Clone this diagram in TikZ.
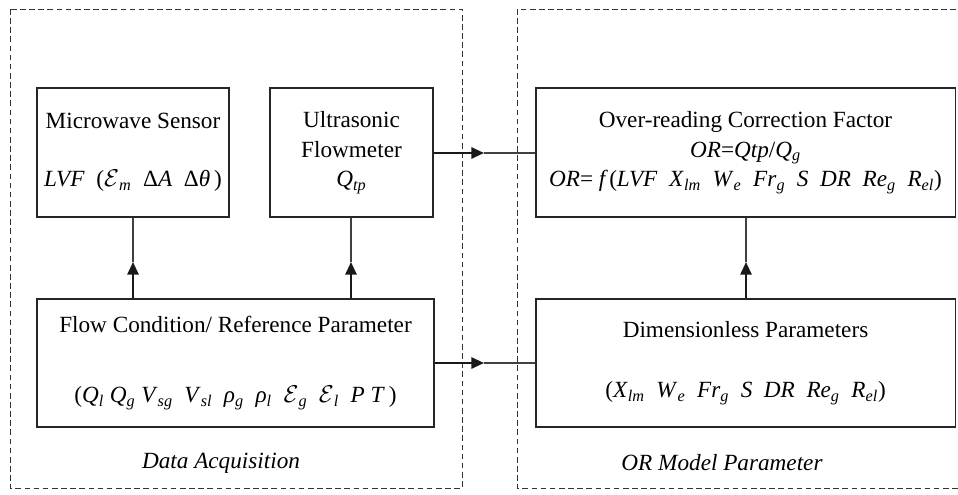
\documentclass[tikz,border=0pt]{standalone}
\usepackage{fontspec}
\setmainfont{Liberation Serif}
\usetikzlibrary{arrows.meta}

% italic symbol with italic subscript
\newcommand{\iv}[2]{\textit{#1}\textsubscript{\textit{#2}}}
\newcommand{\sE}[1]{$\mathcal{E}$\textsubscript{\textit{#1}}}

\tikzset{
  block/.style={draw=black!85, line width=0.8pt, align=center, inner sep=2pt,
    font=\fontsize{16.5}{19}\selectfont},
  group/.style={draw=black!80, line width=0.7pt, dash pattern=on 4pt off 2.5pt},
  feed/.style={line width=1.5pt, black!90, -{Triangle[length=9pt,width=8pt]}},
  rest/.style={line width=0.8pt, black!75},
  caption/.style={font=\fontsize{16.5}{19}\selectfont\itshape}
}

\begin{document}
\begin{tikzpicture}[x=0.025cm,y=-0.025cm]
\useasboundingbox (0,0) rectangle (958,494);

% dashed groups
\draw[group] (10,9) rectangle (462,488);
\draw[group] (517,9) rectangle (975,488);

% blocks
\node[block, minimum width=4.8cm, minimum height=3.225cm]
  (mw) at (133,152.5) {Microwave Sensor\\[22pt]
  \textit{LVF}\ \ (\sE{m}\ \ Δ\textit{A}\ \ Δ\textit{θ}\,)};
\node[block, minimum width=4.075cm, minimum height=3.225cm]
  (us) at (351.5,152.5) {Ultrasonic\\[2pt] Flowmeter\\[2pt] \iv{Q}{tp}};
\node[block, minimum width=10.475cm, minimum height=3.225cm]
  (orf) at (745.5,152.5) {Over-reading Correction Factor\\[2pt]
  \textit{OR}=\textit{Qtp}/\iv{Q}{g}\\[2pt]
  \textit{OR}= \textit{f\,}(\textit{LVF}\ \ \iv{X}{lm}\ \ \iv{W}{e}\ \ \iv{Fr}{g}\ \ \textit{S}\ \ \textit{DR}\ \ \iv{Re}{g}\ \ \iv{R}{el})};
\node[block, minimum width=9.925cm, minimum height=3.2cm]
  (flow) at (235.5,363) {Flow Condition/ Reference Parameter\\[31pt]
  (\iv{Q}{l}\ \iv{Q}{g}\ \iv{V}{sg}\ \ \iv{V}{sl}\ \ \iv{ρ}{g}\ \ \iv{ρ}{l}\ \ \sE{g}\ \ \sE{l}\ \ \textit{P}\ \textit{T}\,)};
\node[block, minimum width=10.475cm, minimum height=3.2cm]
  (dim) at (745.5,363) {Dimensionless Parameters\\[24pt]
  (\iv{X}{lm}\ \ \iv{W}{e}\ \ \iv{Fr}{g}\ \ \textit{S}\ \ \textit{DR}\ \ \iv{Re}{g}\ \ \iv{R}{el})};

% group captions
\node[caption] (daq) at (221,463) {Data Acquisition};
\node[caption] (orm) at (722,463) {OR Model Parameter};

% connectors
\coordinate (t1) at (133,262);
\coordinate (t2) at (351,262);
\coordinate (t3) at (746,262);
\coordinate (t4) at (484,153);
\coordinate (t5) at (484,363);

\draw[feed] (flow.north -| t1) -- (t1);
\draw[rest] (t1) -- (mw.south);
\draw[feed] (flow.north -| t2) -- (t2);
\draw[rest] (t2) -- (us.south -| t2);
\draw[feed] (dim.north -| t3) -- (t3);
\draw[rest] (t3) -- (orf.south -| t3);
\draw[feed] (us.east |- t4) -- (t4);
\draw[rest] (t4) -- (orf.west |- t4);
\draw[feed] (flow.east) -- (t5);
\draw[rest] (t5) -- (dim.west);
\end{tikzpicture}
\end{document}
